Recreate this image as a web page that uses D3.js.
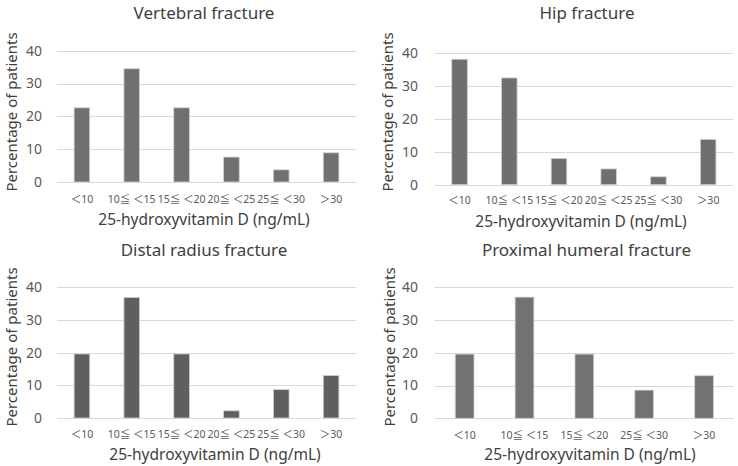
<!DOCTYPE html>
<html><head><meta charset="utf-8">
<script src="https://cdn.jsdelivr.net/npm/d3@7"></script>
<style>
body{margin:0;background:#fff;}
text{font-family:"Noto Sans","Noto Sans CJK JP",sans-serif;}
</style></head>
<body><svg id="c" width="738" height="466"></svg>
<script>
const categories6 = ["＜10","10≦ ＜15","15≦ ＜20","20≦ ＜25","25≦ ＜30","＞30"];
const categories5 = ["＜10","10≦ ＜15","15≦ ＜20","25≦ ＜30","＞30"];
const vertebral = [22.6, 34.5, 22.6, 7.6, 3.7, 8.9];
const hip = [38.2, 32.5, 8.0, 4.8, 2.4, 13.8];
const distalRadius = [19.6, 36.9, 19.6, 2.2, 8.7, 13.0];
const proximalHumeral = [19.6, 37.0, 19.6, 8.6, 13.0];
const yTicks = [0, 10, 20, 30, 40];
const titles = ["Vertebral fracture","Hip fracture","Distal radius fracture","Proximal humeral fracture"];
const xTitle = "25-hydroxyvitamin D (ng/mL)";
const yTitle = "Percentage of patients";

const panels = [
  {title:titles[0], cats:categories6, vals:vertebral, x0:57, x1:356, yb:182, yt:50.7, fill:"#707070",
   titleX:204, titleY:19, ylabX:12, ylabY:112, tickRight:42, tickY:199, xtX:204, xtY:220},
  {title:titles[1], cats:categories6, vals:hip, x0:434.7, x1:733, yb:184.7, yt:53.3, fill:"#6f6f6f",
   titleX:587, titleY:19, ylabX:388, ylabY:112, tickRight:418, tickY:200, xtX:581, xtY:221.7},
  {title:titles[2], cats:categories6, vals:distalRadius, x0:57, x1:356, yb:418, yt:287.3, fill:"#5f5f5f",
   titleX:204, titleY:256, ylabX:12, ylabY:347, tickRight:42, tickY:434, xtX:215, xtY:455},
  {title:titles[3], cats:categories5, vals:proximalHumeral, x0:434.7, x1:734, yb:418.3, yt:287.3, fill:"#727272",
   titleX:586.5, titleY:256, ylabX:389.5, ylabY:347, tickRight:418, tickY:435, xtX:590, xtY:455}
];

const svg = d3.select("#c");
panels.forEach(p => {
  const g = svg.append("g");
  const x = d3.scaleBand().domain(p.cats).range([p.x0, p.x1]).padding(0);
  const y = d3.scaleLinear().domain([0, 40]).range([p.yb, p.yt]);
  const bw = x.bandwidth() / 3.19;

  g.selectAll("line.grid").data(yTicks).join("line")
    .attr("x1", p.x0).attr("x2", p.x1)
    .attr("y1", d => Math.round(y(d)) + 0.5).attr("y2", d => Math.round(y(d)) + 0.5)
    .attr("stroke", "#d9d9d9").attr("stroke-width", 1);

  g.selectAll("text.yt").data(yTicks).join("text")
    .attr("x", p.tickRight).attr("y", d => y(d))
    .attr("dy", "0.35em").attr("text-anchor", "end")
    .attr("font-size", 14).attr("fill", "#595959").text(d => d);

  g.selectAll("rect.bar").data(p.vals).join("rect")
    .attr("x", (d, i) => x(p.cats[i]) + x.bandwidth() / 2 - bw / 2)
    .attr("width", bw)
    .attr("y", d => y(d)).attr("height", d => y(0) - y(d))
    .attr("fill", p.fill).attr("stroke", "#d0d0d0").attr("stroke-width", 0.8);

  g.selectAll("text.xt").data(p.cats).join("text")
    .attr("x", d => x(d) + x.bandwidth() / 2).attr("y", p.tickY)
    .attr("dy", "0.35em").attr("text-anchor", "middle")
    .attr("font-size", 10.5).attr("fill", "#595959").text(d => d);

  g.append("text").attr("x", p.titleX).attr("y", p.titleY)
    .attr("text-anchor", "middle").attr("font-size", 17).attr("fill", "#404040").text(p.title);

  g.append("text").attr("x", p.xtX).attr("y", p.xtY).attr("dy", "0.35em")
    .attr("text-anchor", "middle").attr("font-size", 15.5).attr("fill", "#404040").text(xTitle);

  g.append("text").attr("transform", `translate(${p.ylabX},${p.ylabY}) rotate(-90)`)
    .attr("dy", "0.35em").attr("text-anchor", "middle")
    .attr("font-size", 15).attr("fill", "#404040").text(yTitle);
});
</script></body></html>
